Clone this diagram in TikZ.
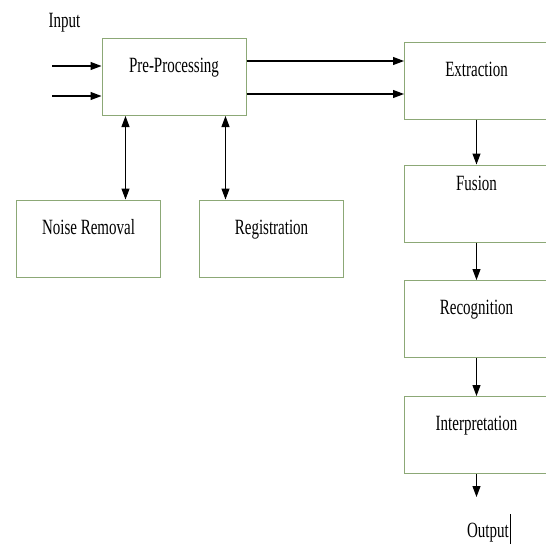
\documentclass[tikz,border=0pt]{standalone}
\usepackage{fontspec}
\setmainfont{Liberation Serif}
\usetikzlibrary{arrows.meta}
\definecolor{boxline}{RGB}{140,168,118}
\newcommand{\tall}[1]{\scalebox{1}[1.45]{#1}}
\tikzstyle{block} = [rectangle, draw=boxline, line width=1pt,
    minimum width=144pt, inner sep=0pt, text height=34pt, text depth=43pt,
    font=\fontsize{15}{18}\selectfont]
\tikzstyle{plain} = [inner sep=0pt, font=\fontsize{15}{18}\selectfont]
\tikzstyle{arr} = [-{Triangle[length=11pt,width=8pt]}, line width=1.1pt]
\tikzstyle{darr} = [{Triangle[length=11pt,width=8pt]}-{Triangle[length=11pt,width=8pt]}, line width=1.1pt]

\begin{document}
\begin{tikzpicture}[x=1pt, y=1pt, node distance=116pt]
    \clip (0,0) rectangle (546,-558);

    \node (inlbl) [plain] at (64.5,-23) {\tall{Input}};
    \node (pre) [block] at (174,-77) {\tall{Pre-Processing}};
    \node (ext) [block] at (476.5,-80.5) {\tall{Extraction}};
    \node (fus) [block, below of=ext, node distance=123pt,
        text height=25pt, text depth=52pt] {\tall{Fusion}};
    \node (rec) [block, below of=fus, node distance=115.5pt] {\tall{Recognition}};
    \node (intp) [block, below of=rec] {\tall{Interpretation}};
    \node (out) [plain] at (489,-529) {\tall{Output}\hspace{1.5pt}\rule[-7pt]{0.8pt}{30pt}};

    % branch below pre-processing
    \node (noise) [block] at (88.5,-238.5) {\tall{Noise Removal}};
    \node (reg) [block, right of=noise, node distance=183pt] {\tall{Registration}};

    \coordinate (in1) at (52,-66);
    \coordinate (in2) at (52,-96);
    \coordinate (outtip) at (476.5,-497);

    \draw [arr] (in1) -- (in1 -| pre.west);
    \draw [arr] (in2) -- (in2 -| pre.west);
    \draw [arr] ([yshift=-23pt]pre.north east) -- ([yshift=-23pt]pre.north east -| ext.west);
    \draw [arr] ([yshift=-56pt]pre.north east) -- ([yshift=-56pt]pre.north east -| ext.west);

    \draw [arr] (ext) -- (fus);
    \draw [arr] (fus) -- (rec);
    \draw [arr] (rec) -- (intp);
    \draw [arr] (intp) -- (outtip);

    \draw [darr] ([xshift=24pt]pre.south west) -- ([xshift=24pt]pre.south west |- noise.north);
    \draw [darr] ([xshift=-21pt]pre.south east) -- ([xshift=-21pt]pre.south east |- reg.north);
\end{tikzpicture}
\end{document}
